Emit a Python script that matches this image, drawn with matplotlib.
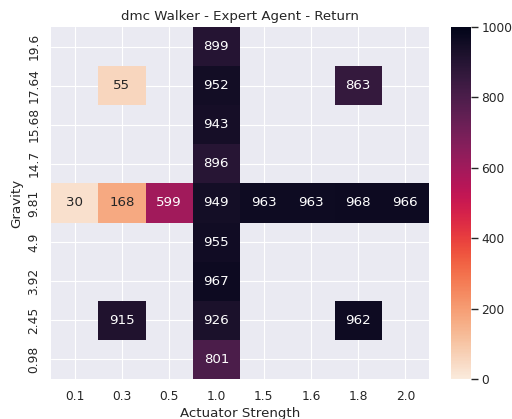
import numpy as np
import pandas as pd
import seaborn as sns
import matplotlib
matplotlib.use('Agg')
import matplotlib.pyplot as plt

actuator = ['0.1', '0.3', '0.5', '1.0', '1.5', '1.6', '1.8', '2.0']
gravity = ['19.6', '17.64', '15.68', '14.7', '9.81', '4.9', '3.92', '2.45', '0.98']

nan = np.nan
row_19_6 = [nan, nan, nan, 899, nan, nan, nan, nan]
row_17_64 = [nan, 55, nan, 952, nan, nan, 863, nan]
row_15_68 = [nan, nan, nan, 943, nan, nan, nan, nan]
row_14_7 = [nan, nan, nan, 896, nan, nan, nan, nan]
row_9_81 = [30, 168, 599, 949, 963, 963, 968, 966]
row_4_9 = [nan, nan, nan, 955, nan, nan, nan, nan]
row_3_92 = [nan, nan, nan, 967, nan, nan, nan, nan]
row_2_45 = [nan, 915, nan, 926, nan, nan, 962, nan]
row_0_98 = [nan, nan, nan, 801, nan, nan, nan, nan]

df = pd.DataFrame([row_19_6, row_17_64, row_15_68, row_14_7, row_9_81,
                   row_4_9, row_3_92, row_2_45, row_0_98],
                  index=gravity, columns=actuator)

sns.set_theme(style='darkgrid')

W, H = 512, 419
fig = plt.figure(figsize=(W / 80, H / 80), dpi=80)
ax = fig.add_axes([51 / W, (H - 379) / H, (429 - 51) / W, (379 - 27) / H])
cax = fig.add_axes([451 / W, (H - 379) / H, 20 / W, (379 - 27) / H])

sns.heatmap(df, ax=ax, cbar_ax=cax, cmap='rocket_r', vmin=0, vmax=1000,
            annot=True, fmt='.0f')
ax.set_xlabel('Actuator Strength')
ax.set_ylabel('Gravity')
ax.set_title('dmc Walker - Expert Agent - Return')
ax.set_yticklabels(gravity, rotation=90, va='center')
ax.set_xticklabels(actuator, rotation=0)
ax.grid(True)
ax.set_axisbelow(True)

fig.savefig('out.png', dpi=80)
